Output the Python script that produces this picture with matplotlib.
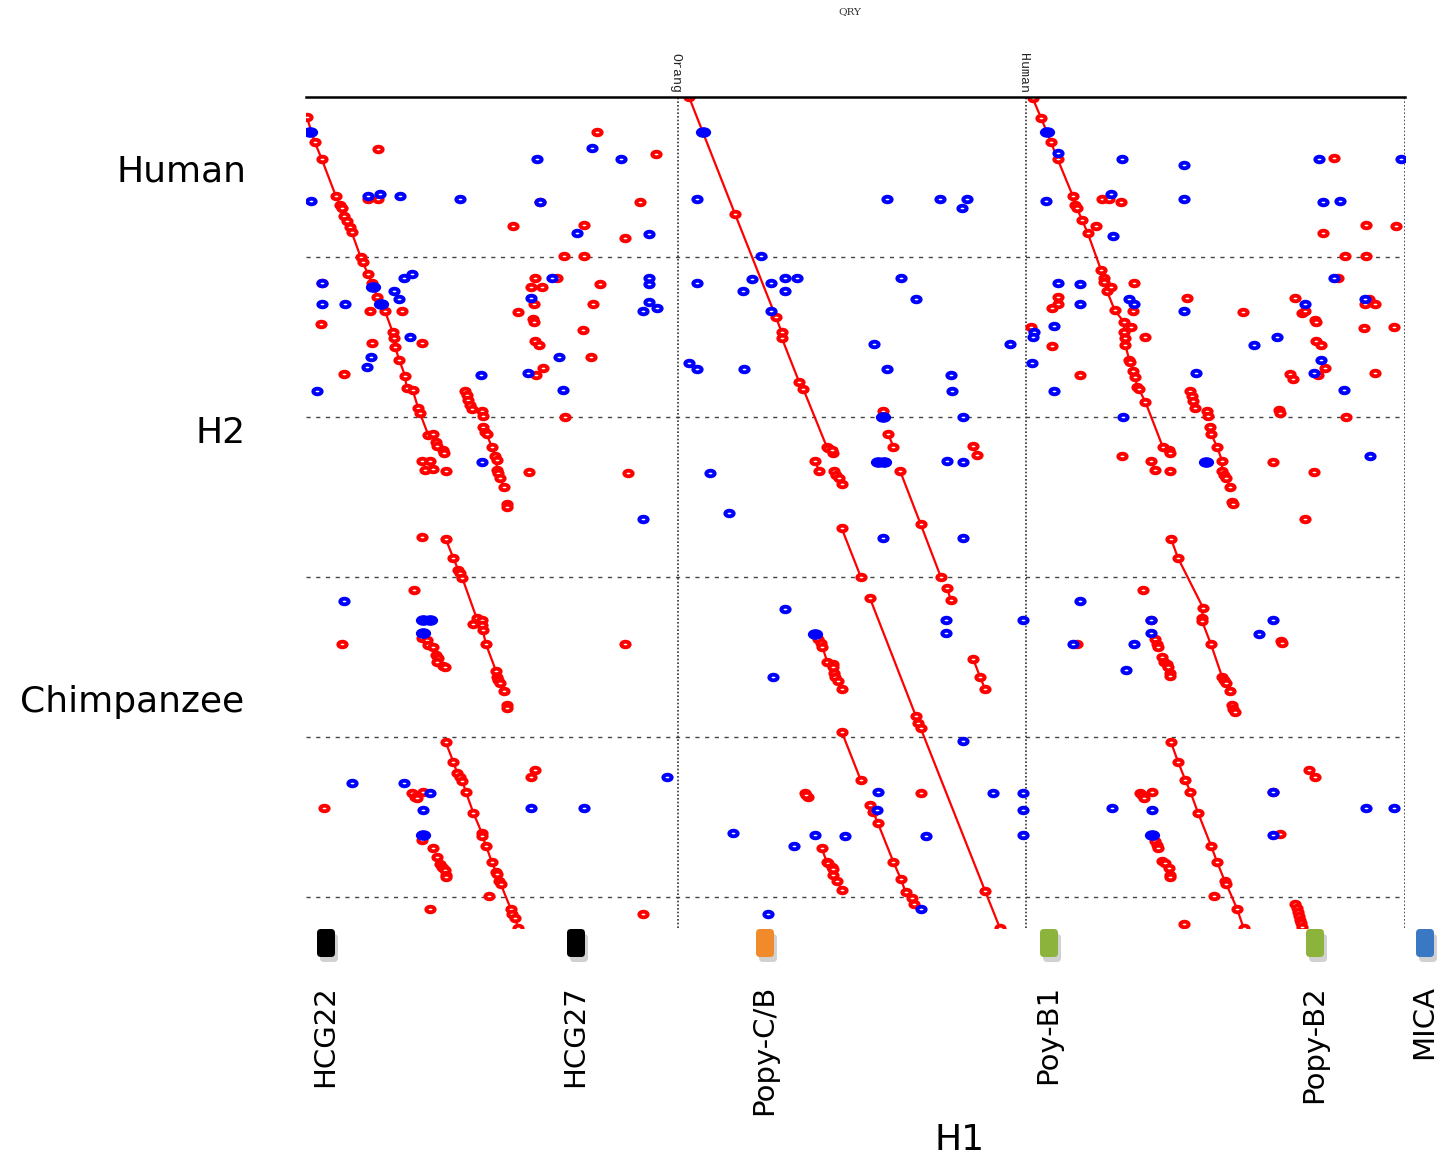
import matplotlib
matplotlib.use("Agg")
import matplotlib.pyplot as plt
from matplotlib.path import Path
from matplotlib.transforms import Affine2D
from matplotlib.patches import FancyBboxPatch

W, H = 1441, 1160

# positions along H1 (x) and QRY (y), same arbitrary units as the plot frame
X_RANGE = (306, 1405)
Y_RANGE = (928, 97)
H_DIVS = [257, 417, 577, 737, 897]
V_DIVS = [678, 1026, 1405]
TOP_LABELS = ["Orang", "Human"]
TOP_LABEL_X = [675, 1023]

# chained hits (drawn as lines with markers)
red_chains = [
    [(306.7, 116.7), (314.7, 142), (321.7, 159), (335.7, 195.7), (340, 205), (341.7, 207.7),
     (344.3, 215.7), (346.7, 221), (350, 226.7), (351.7, 232.3), (360.7, 257.3), (362.7, 262.3),
     (368, 274), (371.7, 282.7), (377.3, 296.7), (385, 311), (392.7, 332.3), (394, 338.3),
     (395, 346.7), (399.3, 360), (405, 375.7), (406.7, 388.3), (412.7, 390.3), (418.3, 408.3),
     (420, 413.3), (428.3, 435)],
    [(483.3, 426.7), (485, 431.7), (486.7, 434.3), (491.7, 446.7), (495, 455.7), (496.7, 460),
     (496.7, 470), (498.3, 473.3), (500, 478.3), (504, 486.7)],
    [(445.7, 538.7), (453.3, 558), (458.3, 570), (460, 573.3), (462.3, 578), (476.7, 618.3),
     (481.7, 620), (482, 625), (482.7, 630), (486, 644.3), (496, 671), (496.7, 676.7),
     (498.3, 680), (500, 682.7), (504, 690.7)],
    [(445.7, 742.3), (453.3, 761.7), (457.3, 773.3), (460, 776.7), (462.3, 780.7), (466, 792.3),
     (473.3, 812.7), (481.7, 832.7), (482.3, 836), (486, 845.7), (491.7, 861.7), (496, 872),
     (496.7, 874), (499, 881), (500.7, 884), (510.7, 908.7), (511.7, 914), (515, 918.3),
     (518.3, 928.3)],
    [(689, 97), (735, 214), (776, 317.3), (781.7, 332.3), (781.7, 337.7), (799, 381.7),
     (803.3, 389), (826.7, 446.7), (828, 448)],
    [(815, 461), (819, 470.7)],
    [(888.3, 434.3), (893.3, 446.7)],
    [(973.3, 446), (977.3, 455)],
    [(900, 470.7), (920.7, 524.3), (940.7, 576.7)],
    [(841.7, 528.3), (860.7, 576.7)],
    [(946.7, 587.7), (951, 600)],
    [(870, 598.3), (915.7, 715.7), (918.3, 723.3), (920.7, 728.3), (985, 890.7), (1000, 928.3)],
    [(818.3, 639.3), (820.7, 643.3), (822.3, 646.7), (827.3, 662), (832.7, 664), (833.3, 666.7),
     (833.7, 673.3), (835, 676.7), (838.3, 681), (841.7, 689)],
    [(973.3, 659.3), (980, 676.7), (985, 689)],
    [(841.7, 731.7), (860.7, 780)],
    [(870, 805), (873.3, 812.3), (877.7, 822.7), (893.3, 861.7), (900.7, 878.7), (905.7, 892.3),
     (911.7, 897.7), (914.3, 904.3)],
    [(821.7, 848.3), (826.7, 861.7), (828.3, 863.3), (832.3, 866.7), (833.3, 869.3), (833.3, 875),
     (837.3, 881), (841.7, 890)],
    [(1032.7, 98.3), (1041, 117.7), (1051, 142.3), (1057.7, 159.3), (1072.7, 195.7),
     (1075.3, 205), (1077, 208.3), (1082, 220), (1087.7, 233), (1101, 270), (1103.7, 277.7),
     (1104.3, 282), (1107, 291), (1114.7, 310.3), (1123.7, 321.7), (1124, 332), (1125.3, 338.3),
     (1125.3, 345), (1129.3, 360), (1130.3, 361.7), (1133.3, 371), (1135.3, 376.7),
     (1137, 387.3), (1138.7, 389), (1145.3, 401.7), (1162.7, 446.7)],
    [(1209.7, 426.7), (1211.3, 434.3), (1217, 446.7), (1222, 460.7), (1222, 471),
     (1223.7, 475), (1226, 478.3), (1230.3, 486.7)],
    [(1151.3, 461), (1155.3, 470.3)],
    [(1171, 538.7), (1178, 558), (1203, 607.7), (1202, 618), (1202, 621), (1211, 644.3),
     (1222, 676.7), (1223.7, 680), (1226, 682.7), (1230.3, 690.7)],
    [(1171, 742.3), (1178, 761.7), (1185.3, 780), (1190.3, 791.7), (1198, 812.7), (1211, 845.7),
     (1217, 861.7), (1224.7, 881), (1226.3, 884), (1237, 908.7), (1243.7, 928.3)],
    [(1295.3, 904.3), (1297, 908), (1298.3, 912), (1299, 916), (1300, 920), (1301, 923),
     (1302, 926.7)],
]

red_x = [378.3, 368.3, 378.3, 596.7, 656, 540, 640, 513.3, 584.3, 625, 564, 584.3, 321.7, 321,
         370, 402.3, 371.7, 422.3, 344, 535, 556.7, 530.7, 541.7, 600, 534, 593.3, 517.7, 532.7,
         534, 582.7, 535, 539.3, 591, 543.3, 536, 565, 529, 627.7, 421.7, 430, 425, 433.3, 445.7,
         481.7, 483.3, 432.7, 436, 437.3, 443.3, 444, 465, 466.7, 468.3, 470, 471.7,
         506.7, 507.3,
         422.3, 414.3, 341.7, 625, 473.3, 506.7, 507.3, 421.7, 426.7, 428.3, 433.3, 436, 438.3,
         437.3, 443.3, 445, 324, 412.3, 415, 416.7, 422.7, 530.7, 535, 489, 430, 643.3, 421.7,
         433.3, 436.7, 440, 442, 443.3, 445, 445.7, 445.7,
         883.3, 833.3, 832, 834.3, 835.7, 839, 841.7, 805, 808.3, 806, 920.7,
         1333.7, 1102, 1109.3, 1121.3, 1096, 1322.7, 1366, 1396.3, 1345.3, 1366, 1133.7, 1111.3,
         1057.7, 1057.7, 1052, 1133, 1187, 1243, 1294.7, 1302, 1305, 1315.3, 1316, 1338, 1368.7,
         1365.3, 1374.7, 1363.7, 1393.7, 1031.3, 1052, 1131, 1145.3, 1316, 1321, 1325.3, 1318,
         1290.3, 1292.7, 1375.3, 1079.7, 1278.7, 1279.7, 1346.3, 1122, 1272.7, 1314.3, 1304.7,
         1170.3, 1168.7, 1170.3, 1207, 1208, 1190.3, 1191.7, 1193, 1195.3, 1232, 1232.7,
         1143, 1151.3, 1077, 1281.3, 1282, 1140.3, 1142, 1144.3, 1152, 1273, 1308.7, 1315.3,
         1280.3, 1213.7, 1184.3, 1232, 1233.3, 1235.3, 1155.3, 1156.7, 1158.3, 1162, 1163.7,
         1167, 1168.3, 1170.3, 1170.3, 1155.3, 1157, 1158.3, 1162, 1164.7, 1168.7, 1170.3, 1170.3]
red_y = [149.3, 199.3, 199.3, 132.3, 153.7, 202.3, 202.3, 226, 225, 238.3, 256, 256, 282.7, 324.3,
         311, 310.7, 342.7, 342.7, 374.3, 278.3, 278.3, 286.7, 286.7, 283.7, 304.3, 304.3, 311.7,
         318.7, 322, 330.3, 341, 345, 357.3, 367.7, 374.7, 416.7, 472.3, 473.3, 461, 461, 470, 469,
         471, 411, 415.7, 434.3, 442.3, 445.7, 450, 453.3, 391, 395, 400, 405, 409,
         504.3, 506.7,
         537.3, 590.3, 644.3, 644.3, 624.3, 705, 708.3, 638.3, 640, 645, 646.7, 655, 657.7,
         661.7, 665.7, 666.7, 808.3, 792.7, 796.7, 798.3, 791.7, 776.7, 770, 895.7, 908.7, 914.3,
         840, 848.3, 856.7, 864, 866.7, 868.3, 870, 875, 877.3,
         411, 453.3, 450, 470.7, 475, 477.7, 484.3, 792.7, 797.3, 795, 792.7,
         158.3, 199.3, 199.3, 202.3, 226, 233, 225, 226, 256, 256, 282.7, 286.7,
         296.7, 304.3, 307.7, 311, 298.3, 312.3, 298.3, 312.7, 311, 320, 322, 278.3, 299.3,
         304.3, 304.3, 328.3, 326.7, 326.7, 345.7, 326.7, 337.3, 341, 345, 367.7, 374.7,
         374.3, 379, 372.7, 374.7, 410, 413, 416.7, 456, 461.7, 472.3, 519.3,
         471, 450, 453.3, 411, 416, 391, 396, 401, 407.7, 501.7, 504.3,
         590.3, 620, 644.3, 641.3, 643, 792.7, 795, 798.3, 791.7, 791.7, 770, 776.7,
         834, 895.7, 924, 705, 709, 712.3, 639.3, 644.3, 646.7, 657.3, 661.7,
         664, 667.3, 673.3, 675.7, 841, 845, 848.3, 861, 862.7, 868.3, 875, 877.3]

blue_x = [310.7, 368.3, 380, 400, 460, 591.7, 536.7, 621, 540, 576.7, 649, 321.7, 321.7, 345,
          411.7, 404.3, 394, 398.7, 410, 370.7, 366.7, 317.3, 481.3, 552.3, 649.3, 649.3, 530.7,
          649.3, 642.7, 656.7, 559.3, 528.3, 563.3, 481.7, 643.3,
          344, 422.7, 351.7, 404, 430, 530.7, 584.3, 666.7,
          697.3, 887.3, 940, 967.3, 961.7, 761, 697.3, 751.7, 743, 771, 785, 796.7, 785, 900.7,
          916, 771, 874, 1010.3, 689, 697.3, 744.3, 887.3, 951.3, 952.3, 962.7, 709.7, 729,
          946.7, 962.7, 883.3, 963.3, 785, 945.7, 1022.7, 945.7, 773.3, 963.3, 877.7, 877.3,
          732.7, 815, 845, 925.7, 794.3, 992.7, 1022.7, 1022.7, 1022.7, 768.3, 920.7,
          1057.7, 1122, 1184.3, 1318.7, 1401.3, 1046.3, 1111.3, 1184.3, 1323, 1339.7, 1113,
          1057.7, 1079.7, 1080.3, 1129.3, 1133.7, 1184.3, 1305.3, 1333.7, 1365.3, 1033.7, 1032.7,
          1053.7, 1032, 1254.3, 1277, 1321.3, 1313.7, 1196.3, 1054.3, 1344.3, 1123, 1370.3,
          1079.7, 1151.3, 1151.3, 1073, 1133.7, 1126, 1273, 1258.7, 1112, 1152, 1273, 1273, 1366,
          1393.7]
blue_y = [200.7, 195.7, 194.3, 195.7, 199.3, 147.7, 159, 159, 202.3, 233, 233.7, 282.7, 304.3,
          304.3, 274, 278.3, 290.7, 299, 337.3, 357.3, 367, 390.7, 374.7, 278.3, 278.3, 283.7,
          298.3, 301.7, 310.7, 307.7, 357.3, 372.7, 390, 462.3, 519.3,
          600.7, 810, 782.7, 782.7, 792.7, 808.3, 808.3, 776.7,
          199.3, 199.3, 199.3, 199.3, 207.7, 256, 282.7, 279, 291, 282.7, 278.3, 278.3, 291, 278.3,
          298.7, 310.7, 344.3, 344.3, 363, 369.3, 369.3, 369.3, 374.7, 390.7, 417.3, 473, 512.7,
          460.7, 461.7, 537.7, 537.7, 609.3, 620, 620, 633.3, 677, 741, 791.7, 810,
          833.3, 835, 836, 836, 845.7, 792.7, 792.7, 810, 835, 914.3, 908.7,
          153.3, 159, 165, 159, 159, 200.7, 194.3, 199.3, 202.3, 200.7, 235.7,
          282.7, 283.7, 304.3, 299, 304.3, 310.7, 304.3, 278.3, 299.3, 332.3, 337.3,
          326.3, 363, 344.7, 337.3, 360, 372.7, 372.7, 391, 390, 416.7, 456,
          600.7, 620, 633.3, 644.3, 644.3, 670, 620, 634.3, 808.3, 810, 791.7, 835, 808.3,
          808.3]

# larger, solid blue hits
blue_solid_x = [310, 372.7, 381.3, 422.7, 430, 422.7, 422.7, 703.3, 883.3, 878, 884, 815,
                1047, 1206.3, 1152]
blue_solid_y = [132, 286.7, 304.3, 620, 620, 633.3, 835, 132.3, 416.7, 461.7, 461.7, 634,
                132.3, 461.7, 835]

genes = ["HCG22", "HCG27", "Popy-C/B", "Poy-B1", "Popy-B2", "MICA"]
gene_x = [326, 576, 765, 1049, 1315, 1425]
gene_colors = ["#000000", "#000000", "#f08a2a", "#8cb43c", "#8cb43c", "#3a78c4"]

RED = "#ff0000"
BLUE = "#0000ff"

ell = Path.unit_circle().transformed(Affine2D().scale(1.5, 1.0))

fig = plt.figure(figsize=(W / 100, H / 100), dpi=100)
ax = fig.add_axes([306 / W, 1 - 928 / H, (1405 - 306) / W, (928 - 97) / H])
ax.set_xlim(*X_RANGE)
ax.set_ylim(*Y_RANGE)
for s in ax.spines.values():
    s.set_visible(False)
ax.set_xticks([])
ax.set_yticks([])

for y in H_DIVS:
    ax.axhline(y, color="#444444", lw=1, ls=(0, (3, 4)), zorder=1)
for x in V_DIVS:
    ax.axvline(x, color="#333333", lw=1.2, ls=(0, (1, 1.2)), zorder=1)
ax.axhline(97, color="black", lw=1.8, zorder=5, clip_on=False)

mk = dict(marker=ell, markersize=6, markerfacecolor="white", markeredgewidth=2.8)
for ch in red_chains:
    xs = [p[0] for p in ch]
    ys = [p[1] for p in ch]
    ax.plot(xs, ys, color=RED, lw=1.6, markeredgecolor=RED, zorder=3, **mk)

ax.plot(red_x, red_y, ls="none", markeredgecolor=RED, zorder=3, **mk)
ax.plot(blue_x, blue_y, ls="none", markeredgecolor=BLUE, zorder=4, **mk)
ax.plot(blue_solid_x, blue_solid_y, ls="none", marker=ell, markersize=10,
        color=BLUE, zorder=4)

for lab, x in zip(TOP_LABELS, TOP_LABEL_X):
    ax.text(x, 93, lab, rotation=-90, ha="center", va="bottom", fontsize=9.5,
            family="Liberation Mono", color="#222222", clip_on=False)
fig.text(850 / W, 1 - 12 / H, "QRY", ha="center", va="center", fontsize=7.5,
         family="DejaVu Serif", color="#333333")

# gene blocks below the frame
for g, x, c in zip(genes, gene_x, gene_colors):
    sh = FancyBboxPatch((x - 9 + 3, 930 + 4), 18, 28, boxstyle="round,pad=0,rounding_size=4",
                        fc="#000000", ec="none", alpha=0.18, clip_on=False, zorder=1)
    ax.add_patch(sh)
    bx = FancyBboxPatch((x - 9, 929), 18, 28, boxstyle="round,pad=0,rounding_size=4",
                        fc=c, ec="none", clip_on=False, zorder=2)
    ax.add_patch(bx)
    ax.text(x - 1, 985, g, rotation=90, ha="center", va="top", fontsize=21,
            family="DejaVu Sans", clip_on=False)

lab_font = dict(fontsize=26, family="DejaVu Sans", va="center")
fig.text(246 / W, 1 - 172 / H, "Human", ha="right", **lab_font)
fig.text(246 / W, 1 - 433 / H, "H2", ha="right", **lab_font)
fig.text(244 / W, 1 - 702 / H, "Chimpanzee", ha="right", **lab_font)
fig.text(960 / W, 1 - 1140 / H, "H1", ha="center", **lab_font)

fig.savefig("out.png", dpi=100)
